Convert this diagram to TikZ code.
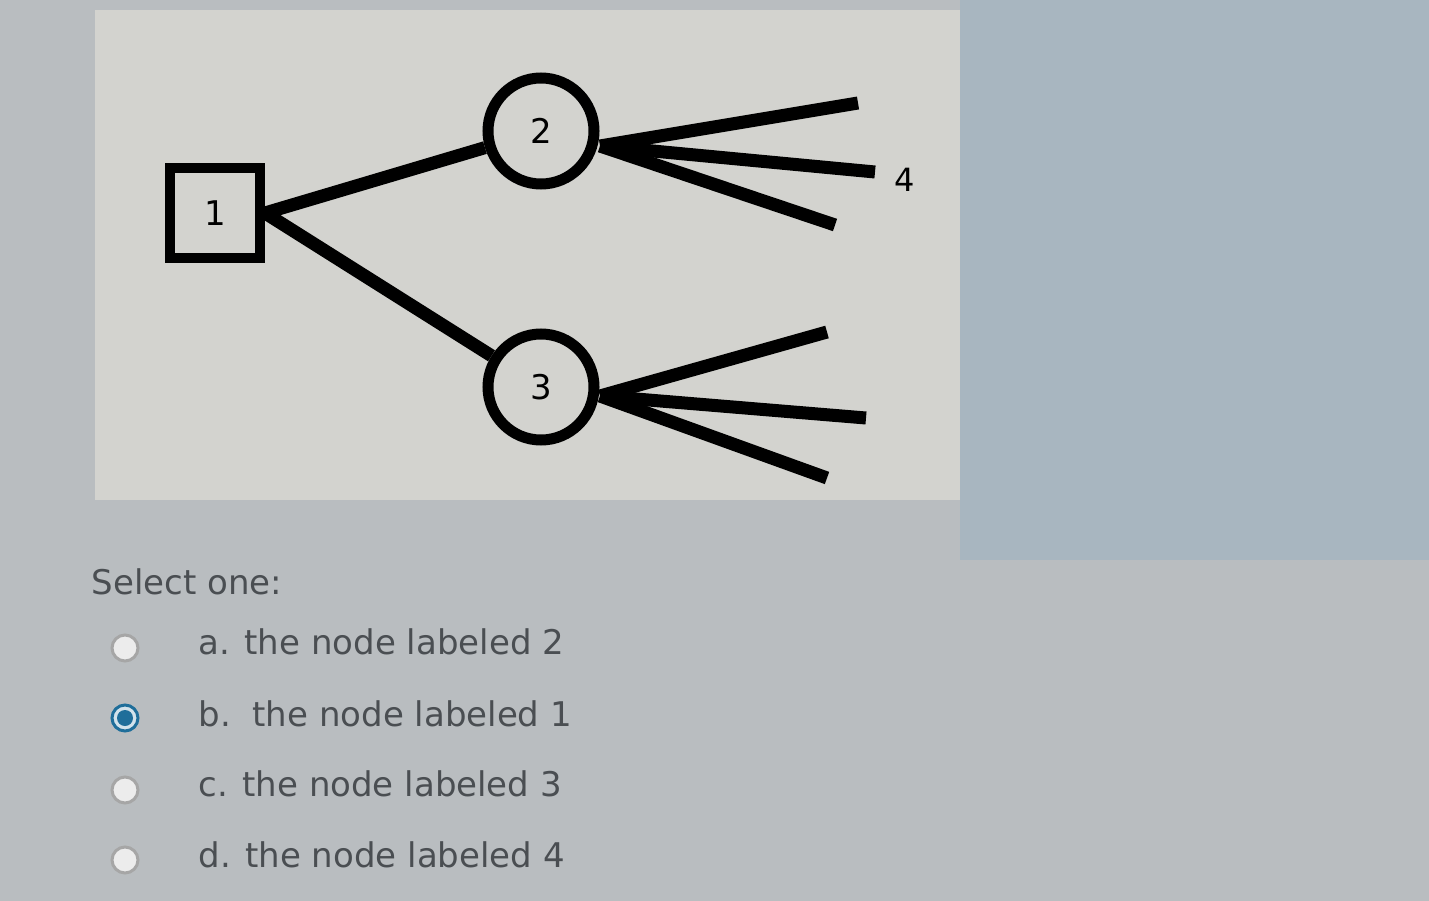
\documentclass[tikz,border=0pt]{standalone}
\usepackage{fontspec}
\setmainfont{DejaVu Sans}
\definecolor{bg}{HTML}{B9BDC0}
\definecolor{bgr}{HTML}{A8B6C0}
\definecolor{panel}{HTML}{D3D3CF}
\definecolor{txt}{HTML}{4A4E52}
\definecolor{sel}{HTML}{1F6E9A}
\tikzset{x=1pt,y=-1pt,
 edge/.style={line width=13pt,line cap=butt},
 sq/.style={draw,line width=10pt,minimum size=90pt,inner sep=0pt,font=\fontsize{34}{34}\selectfont},
 circ/.style={circle,draw,line width=11pt,minimum size=106pt,inner sep=0pt,font=\fontsize{34}{34}\selectfont},
 opt/.style={anchor=west,text=txt,font=\fontsize{34}{34}\selectfont},
 radio/.style={circle,draw=gray!70,line width=3pt,fill=white!85!gray,minimum size=26pt,inner sep=0pt}}
\begin{document}
\begin{tikzpicture}
\useasboundingbox (0,0) rectangle (1429,901);
\fill[bg] (0,0) rectangle (1429,901);
\fill[bgr] (960,0) rectangle (1429,560);
\fill[panel] (95,10) rectangle (960,500);
\node[sq] (n1) at (215,213) {1};
\node[circ] (n2) at (541,131) {2};
\node[circ] (n3) at (541,387) {3};
\coordinate (a1) at (858,103); \coordinate (a2) at (875,172); \coordinate (a3) at (835,225);
\coordinate (b1) at (827,332); \coordinate (b2) at (866,418); \coordinate (b3) at (827,478);
\coordinate (s2) at (600,146); \coordinate (s3) at (600,396);
\draw[edge] (n1.east) -- (n2);
\draw[edge] (n1.east) -- (n3);
\foreach \t in {a1,a2,a3} \draw[edge] (s2) -- (\t);
\foreach \t in {b1,b2,b3} \draw[edge] (s3) -- (\t);
\node[font=\fontsize{32}{32}\selectfont] (l4) at (905,180) {4};
\node[opt] (sel) at (88,582) {Select one:};
\node[radio] (r1) at (125,648) {};
\node[radio,draw=sel,fill=sel!20] (r2) at (125,718) {};
\fill[sel] (r2) circle (8pt);
\node[radio] (r3) at (125,790) {};
\node[radio] (r4) at (125,860) {};
\node[opt] (o1) at (195,642) {a. the node labeled 2};
\node[opt] (o2) at (195,714) {b.\ \ the node labeled 1};
\node[opt] (o3) at (195,784) {c. the node labeled 3};
\node[opt] (o4) at (195,855) {d. the node labeled 4};
\end{tikzpicture}
\end{document}
